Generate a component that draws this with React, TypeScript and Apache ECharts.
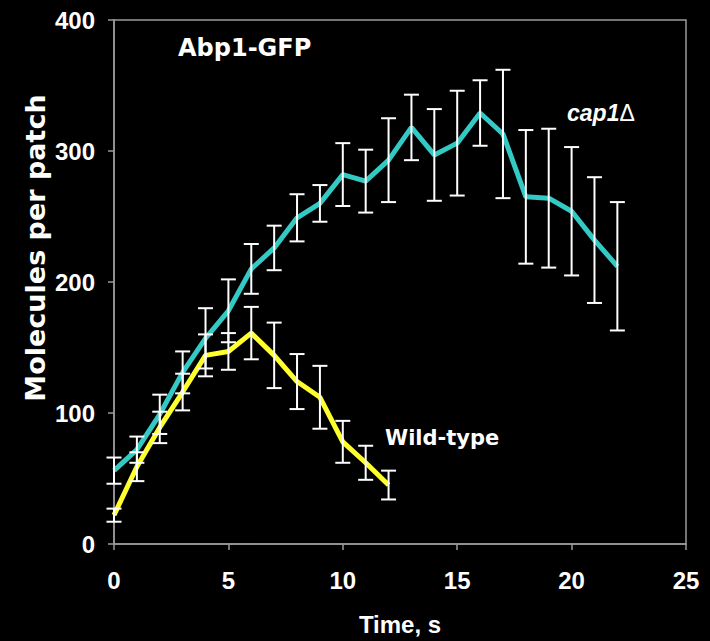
import React, { useEffect, useRef } from "react";
import * as echarts from "echarts";

// Time points (s)
const cap1Times = [0, 1, 2, 3, 4, 5, 6, 7, 8, 9, 10, 11, 12, 13, 14, 15, 16, 17, 18, 19, 20, 21, 22];
const cap1Mean = [56, 72, 99, 131, 157, 178, 210, 226, 249, 260, 282, 277, 293, 318, 297, 306, 329, 313, 265, 264, 254, 232, 212];
const cap1Err = [10, 10, 15, 16, 23, 24, 19, 17, 18, 14, 24, 24, 32, 25, 35, 40, 25, 49, 51, 53, 49, 48, 49];

const wtTimes = [0, 1, 2, 3, 4, 5, 6, 7, 8, 9, 10, 11, 12];
const wtMean = [22, 59, 89, 116, 144, 147, 161, 144, 124, 112, 78, 62, 45];
const wtErr = [5, 11, 12, 14, 16, 14, 20, 25, 21, 24, 16, 13, 11];

const xTicks = [0, 5, 10, 15, 20, 25];
const yTicks = [0, 100, 200, 300, 400];

const CYAN = "#33c9c4";
const YELLOW = "#ffff2e";
const AXIS = "#9a9a9a";

function errorSeries(times: number[], mean: number[], err: number[]) {
  const data = times.map((t, i) => [t, mean[i] - err[i], mean[i] + err[i]]);
  return {
    type: "custom",
    z: 5,
    silent: true,
    data,
    renderItem: (params: any, api: any) => {
      const x = api.value(0);
      const lo = api.coord([x, api.value(1)]);
      const hi = api.coord([x, api.value(2)]);
      const hw = 7.5;
      const style = { stroke: "#ffffff", lineWidth: 2 };
      return {
        type: "group",
        children: [
          { type: "line", shape: { x1: lo[0], y1: lo[1], x2: hi[0], y2: hi[1] }, style },
          { type: "line", shape: { x1: lo[0] - hw, y1: lo[1], x2: lo[0] + hw, y2: lo[1] }, style },
          { type: "line", shape: { x1: hi[0] - hw, y1: hi[1], x2: hi[0] + hw, y2: hi[1] }, style },
        ],
      };
    },
  };
}

export default function App() {
  const ref = useRef<HTMLDivElement>(null);
  useEffect(() => {
    document.body.style.margin = "0";
    document.body.style.background = "#000";
    const chart = echarts.init(ref.current!, null, { renderer: "svg" });
    chart.setOption({
      animation: false,
      backgroundColor: "#000",
      grid: {
        left: 114,
        right: 24,
        top: 20,
        bottom: 91,
        show: true,
        borderColor: AXIS,
        borderWidth: 1.5,
        backgroundColor: "transparent",
      },
      xAxis: {
        type: "value",
        min: 0,
        max: 25,
        interval: 5,
        name: "Time, s",
        nameLocation: "middle",
        nameGap: 68,
        nameTextStyle: { color: "#fff", fontFamily: "Liberation Sans", fontWeight: "bold", fontSize: 24 },
        axisLine: { lineStyle: { color: AXIS, width: 1.5 } },
        axisTick: { show: true, length: 6, lineStyle: { color: AXIS, width: 1.5 } },
        splitLine: { show: false },
        axisLabel: {
          color: "#fff",
          fontFamily: "Liberation Sans",
          fontWeight: "bold",
          fontSize: 24,
          margin: 24,
          formatter: (v: number) => (xTicks.includes(v) ? String(v) : ""),
        },
      },
      yAxis: {
        type: "value",
        min: 0,
        max: 400,
        interval: 100,
        axisLine: { show: true, lineStyle: { color: AXIS, width: 1.5 } },
        axisTick: { show: true, length: 6, lineStyle: { color: AXIS, width: 1.5 } },
        splitLine: { show: false },
        axisLabel: {
          color: "#fff",
          fontFamily: "Liberation Sans",
          fontWeight: "bold",
          fontSize: 24,
          margin: 19,
          formatter: (v: number) => (yTicks.includes(v) ? String(v) : ""),
        },
      },
      graphic: [
        {
          type: "text",
          x: 35,
          y: 248,
          rotation: Math.PI / 2,
          style: {
            text: "Molecules per patch",
            fill: "#fff",
            fontFamily: "DejaVu Sans",
            fontWeight: "bold",
            fontSize: 27,
            textAlign: "center",
            textVerticalAlign: "middle",
          },
        },
        {
          type: "text",
          x: 178,
          y: 48,
          style: {
            text: "Abp1-GFP",
            fill: "#fff",
            fontFamily: "DejaVu Sans",
            fontWeight: "bold",
            fontSize: 24,
            textAlign: "left",
            textVerticalAlign: "middle",
          },
        },
        {
          type: "text",
          x: 567,
          y: 113,
          style: {
            text: "{i|cap1}{d|Δ}",
            fill: "#fff",
            textAlign: "left",
            textVerticalAlign: "middle",
            rich: {
              i: {
                fill: "#fff",
                fontFamily: "Liberation Sans",
                fontWeight: "bold",
                fontStyle: "italic",
                fontSize: 23,
              },
              d: {
                fill: "#fff",
                fontFamily: "Liberation Sans",
                fontWeight: "normal",
                fontSize: 23,
              },
            },
          },
        },
        {
          type: "text",
          x: 385,
          y: 438,
          style: {
            text: "Wild-type",
            fill: "#fff",
            fontFamily: "DejaVu Sans",
            fontWeight: "bold",
            fontSize: 21,
            textAlign: "left",
            textVerticalAlign: "middle",
          },
        },
      ],
      series: [
        {
          type: "line",
          name: "cap1Δ",
          data: cap1Times.map((t, i) => [t, cap1Mean[i]]),
          showSymbol: false,
          symbol: "none",
          lineStyle: { color: CYAN, width: 5 },
          z: 3,
        },
        {
          type: "line",
          name: "Wild-type",
          data: wtTimes.map((t, i) => [t, wtMean[i]]),
          showSymbol: false,
          symbol: "none",
          lineStyle: { color: YELLOW, width: 5 },
          z: 4,
        },
        errorSeries(cap1Times, cap1Mean, cap1Err),
        errorSeries(wtTimes, wtMean, wtErr),
      ],
    });
    return () => chart.dispose();
  }, []);
  return <div ref={ref} style={{ width: 710, height: 641 }} />;
}
